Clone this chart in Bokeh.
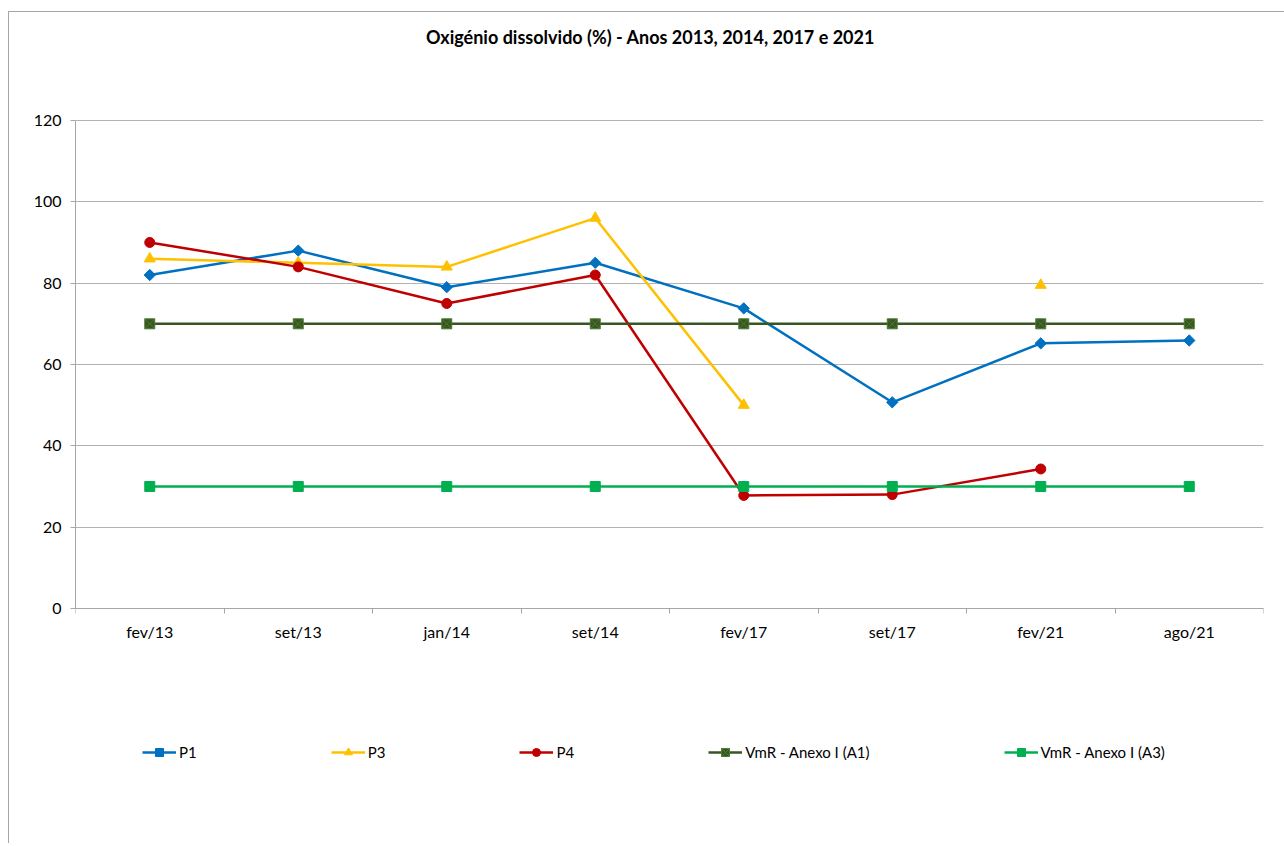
import numpy as np
from bokeh.plotting import figure
from bokeh.models import (ColumnDataSource, FixedTicker, Legend, LegendItem, Label,
                          Range1d, InlineStyleSheet)
from bokeh.embed import file_html
from bokeh.resources import INLINE

categories = ["fev/13", "set/13", "jan/14", "set/14", "fev/17", "set/17", "fev/21", "ago/21"]
p1 = [82, 88, 79, 85, 73.8, 50.7, 65.2, 65.9]
p3 = [86, 85, 84, 96, 50, np.nan, 79.5, np.nan]
p4 = [90, 84, 75, 82, 27.8, 28, 34.3, np.nan]
vmr_a1 = [70, 70, 70, 70, 70, 70, 70, 70]
vmr_a3 = [30, 30, 30, 30, 30, 30, 30, 30]
y_ticks = [0, 20, 40, 60, 80, 100, 120]
title_text = "Oxigénio dissolvido (%) - Anos 2013, 2014, 2017 e 2021"

FONT = "Lato"
GREY = "#a6a6a6"
xs = [i + 0.5 for i in range(len(categories))]

p = figure(frame_width=1188, frame_height=791, output_backend="svg", toolbar_location=None,
           x_range=Range1d(0, len(categories)), y_range=Range1d(-45, 149.5),
           min_border_left=75, min_border_right=21, min_border_top=0,
           min_border_bottom=52)
css = (":host { background-color: white;"
       " background-image: linear-gradient(#a6a6a6,#a6a6a6), linear-gradient(#a6a6a6,#a6a6a6);"
       " background-size: 1px 100%, 100% 1px; background-position: 8px 11px, 8px 11px;"
       " background-repeat: no-repeat; }")
p.stylesheets = [InlineStyleSheet(css=css)]
p.outline_line_color = None
p.background_fill_color = None
p.border_fill_color = None

title = Label(x=575, y=755, x_units="screen", y_units="screen", text=title_text,
              text_font=FONT, text_font_size="18px", text_font_style="bold",
              text_color="#000000", text_align="center", text_baseline="middle")
p.add_layout(title)

# x axis drawn at y = 0 inside the frame
p.xaxis.fixed_location = 0
p.xaxis.ticker = FixedTicker(ticks=xs, minor_ticks=list(range(len(categories) + 1)))
p.xaxis.major_label_overrides = {x: c for x, c in zip(xs, categories)}
p.xaxis.major_tick_line_color = None
p.xaxis.major_tick_out = 0
p.xaxis.major_tick_in = 0
p.xaxis.minor_tick_line_color = GREY
p.xaxis.minor_tick_out = 5
p.xaxis.minor_tick_in = 0
p.xaxis.major_label_standoff = 9
p.xaxis.axis_line_color = GREY

p.yaxis.ticker = FixedTicker(ticks=y_ticks, minor_ticks=[])
p.yaxis.bounds = (0, 120)
p.yaxis.major_tick_line_color = GREY
p.yaxis.major_tick_out = 5
p.yaxis.major_tick_in = 0
p.yaxis.major_label_standoff = 9
p.yaxis.axis_line_color = GREY

for ax in (p.xaxis, p.yaxis):
    ax.major_label_text_font = FONT
    ax.major_label_text_font_size = "16px"
    ax.major_label_text_color = "#000000"

p.xgrid.grid_line_color = None
p.ygrid.grid_line_color = "#b3b3b3"
p.ygrid.grid_line_width = 1

series = [
    ("P1", p1, "#0070C0", "square", 8, np.pi / 4),
    ("P3", p3, "#FFC000", "triangle", 11, 0),
    ("P4", p4, "#C00000", "circle", 10, 0),
    ("VmR - Anexo I (A1)", vmr_a1, "#375623", "square_x", 10, 0),
    ("VmR - Anexo I (A3)", vmr_a3, "#00B050", "square", 10, 0),
]

items = []
for name, vals, color, marker, size, ang in series:
    src = ColumnDataSource(dict(x=xs, y=vals))
    ln = p.line("x", "y", source=src, line_color=color, line_width=2.5)
    if marker == "square_x":
        sc = p.scatter("x", "y", source=src, marker=marker, size=size,
                       fill_color=color, line_color="#4E7A2F", line_width=1)
    else:
        sc = p.scatter("x", "y", source=src, marker=marker, size=size, angle=ang,
                       fill_color=color, line_color=color)
    items.append(LegendItem(label=name, renderers=[ln, sc]))

legend = Legend(items=items, orientation="horizontal", location=(67, 29),
                glyph_width=34, glyph_height=20, label_standoff=3, spacing=134,
                padding=0, margin=0, label_width=10,
                label_text_font=FONT, label_text_font_size="15px",
                label_text_color="#000000",
                border_line_color=None, background_fill_alpha=0)
p.add_layout(legend, "center")

open("out.html", "w").write(file_html(p, INLINE))
